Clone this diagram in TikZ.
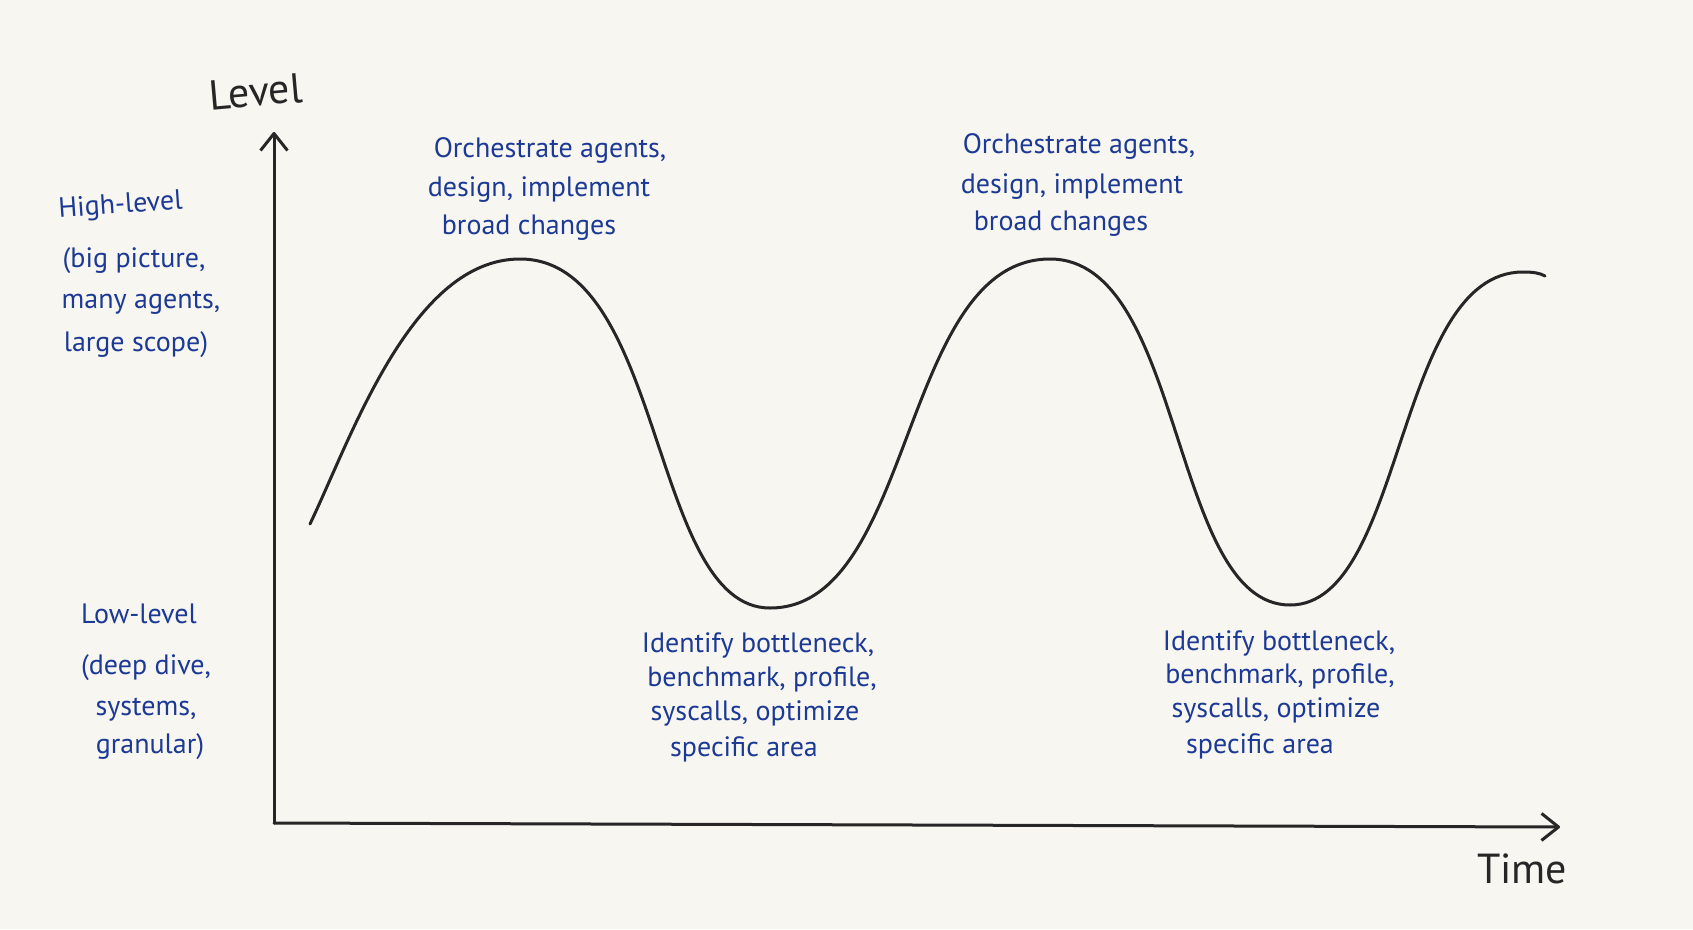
\documentclass[tikz,border=0pt]{standalone}
\usepackage{fontspec}
\setmainfont{PT Sans}
\usetikzlibrary{arrows.meta}
\definecolor{paper}{HTML}{F8F6F1}
\definecolor{ink}{HTML}{262626}
\definecolor{pen}{HTML}{1C3A95}
\begin{document}
\begin{tikzpicture}[x=1pt,y=-1pt,
  lbl/.style={text=pen, font=\fontsize{28}{34}\selectfont, anchor=base, inner sep=0pt},
  axlbl/.style={text=ink, font=\fontsize{42}{50}\selectfont, anchor=base, inner sep=0pt},
  axisline/.style={draw=ink, line width=3pt, line cap=round, -{Straight Barb[length=17pt,width=27pt,line join=round]}},
  wave/.style={draw=ink, line width=3pt, line cap=round}]
\fill[paper] (0,0) rectangle (1693,929);
\useasboundingbox (0,0) rectangle (1693,929);

% axes
\coordinate (O) at (274,823);
\coordinate (ytip) at (274,132);
\coordinate (xtip) at (1560,827);
\draw[axisline] (O) -- (ytip);
\draw[axisline] (O) -- (xtip);
\node[axlbl, rotate=5] (level) at (257,106) {Level};
\node[axlbl] (time) at (1522,883) {Time};

% wave
\coordinate (s) at (310,524);
\coordinate (p1) at (520,259);
\coordinate (t1) at (770,608);
\coordinate (p2) at (1050,259);
\coordinate (t2) at (1290,605);
\coordinate (p3) at (1523,272);
\coordinate (e) at (1545,276);
\draw[wave] (s) .. controls (352,436) and (412,259) .. (p1)
  .. controls (665,259) and (650,608) .. (t1)
  .. controls (915,608) and (900,259) .. (p2)
  .. controls (1185,259) and (1170,605) .. (t2)
  .. controls (1405,605) and (1395,272) .. (p3)
  .. controls (1533,272) and (1540,273) .. (e);

% left labels
\node[lbl, rotate=4] (hl1) at (121,213) {High-level};
\node[lbl] (hl2) at (134,267) {(big picture,};
\node[lbl] (hl3) at (141,308) {many agents,};
\node[lbl] (hl4) at (136,351) {large scope)};
\node[lbl] (ll1) at (139,623) {Low-level};
\node[lbl] (ll2) at (146,674) {(deep dive,};
\node[lbl] (ll3) at (146,715) {systems,};
\node[lbl] (ll4) at (150,753) {granular)};

% top labels
\node[lbl] (ta1) at (550,157) {Orchestrate agents,};
\node[lbl] (ta2) at (539,196) {design, implement};
\node[lbl] (ta3) at (529,234) {broad changes};
\node[lbl] (tb1) at (1079,153) {Orchestrate agents,};
\node[lbl] (tb2) at (1072,193) {design, implement};
\node[lbl] (tb3) at (1061,230) {broad changes};

% bottom labels
\node[lbl] (ba1) at (758,652) {Identify bottleneck,};
\node[lbl] (ba2) at (762,686) {benchmark, profile,};
\node[lbl] (ba3) at (755,720) {syscalls, optimize};
\node[lbl] (ba4) at (744,756) {specific area};
\node[lbl] (bb1) at (1279,650) {Identify bottleneck,};
\node[lbl] (bb2) at (1280,683) {benchmark, profile,};
\node[lbl] (bb3) at (1276,717) {syscalls, optimize};
\node[lbl] (bb4) at (1260,753) {specific area};
\end{tikzpicture}
\end{document}
